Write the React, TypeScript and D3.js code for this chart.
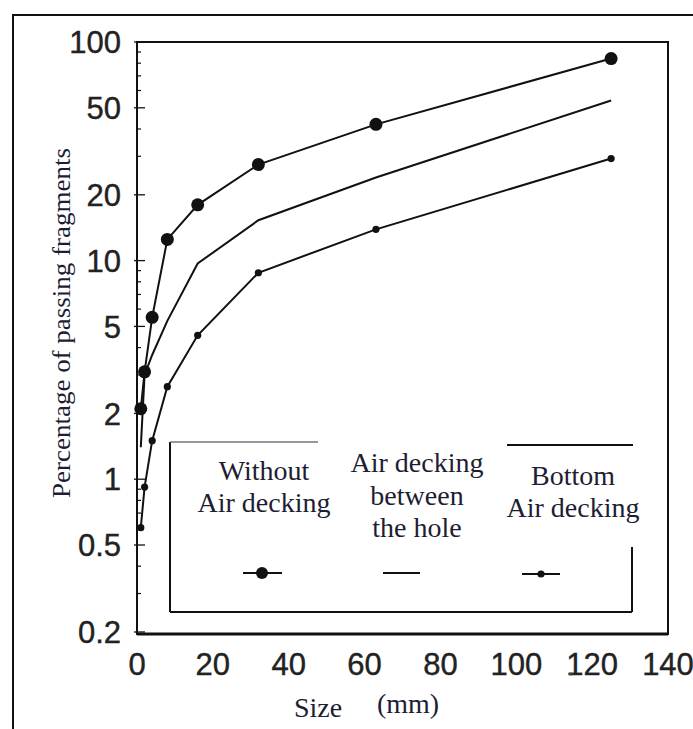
import React from "react";
import * as d3 from "d3";

const sizes = [1, 2, 4, 8, 16, 32, 63, 125];
const withoutAirDecking = [2.1, 3.1, 5.5, 12.5, 18, 27.5, 42, 84];
const airDeckingBetween = [1.4, 3.0, 3.7, 5.3, 9.7, 15.3, 24, 54];
const bottomAirDecking = [0.6, 0.92, 1.5, 2.65, 4.55, 8.8, 13.9, 29.3];

const xTicks = [0, 20, 40, 60, 80, 100, 120, 140];
const yTicks = [0.2, 0.5, 1, 2, 5, 10, 20, 50, 100];

const legendLabels = [
  ["Without", "Air decking"],
  ["Air decking", "between", "the hole"],
  ["Bottom", "Air decking"],
];

const W = 693;
const H = 729;
const L = 137, R = 668, T = 42, B = 632;

export default function App() {
  const x = d3.scaleLinear().domain([0, 140]).range([L, R]);
  const y = d3.scaleLog().domain([0.2, 100]).range([B, T]);
  const line = d3
    .line<[number, number]>()
    .x((d) => x(d[0]))
    .y((d) => y(d[1]));
  const pts = (vals: number[]) => sizes.map((s, i) => [s, vals[i]] as [number, number]);

  const minor: number[] = [];
  [0.1, 1, 10].forEach((dec) => {
    for (let k = 1; k <= 9; k++) {
      const v = dec * k;
      if (v >= 0.2 && v <= 100 && !yTicks.includes(+v.toFixed(4))) minor.push(v);
    }
  });

  const ink = "#111";
  const textNavy = "#1d1d33";
  const sans = "'Liberation Sans', Arial, sans-serif";
  const serif = "'Liberation Serif', 'Times New Roman', serif";

  const legendX = [264, 417, 573];
  const legendY = [[470, 502], [462, 495, 527], [475, 507]];

  return (
    <svg
      width={W}
      height={H}
      style={{ position: "absolute", left: 0, top: 0, display: "block", background: "#fff" }}
    >
      <rect x={0} y={0} width={W} height={H} fill="#fff" />
      {/* outer frame */}
      <rect x={13} y={15} width={720} height={800} fill="none" stroke={ink} strokeWidth={2} />

      {/* plot frame */}
      <rect x={L} y={T} width={R - L} height={B + 2 - T} fill="none" stroke={ink} strokeWidth={2} />
      <line x1={L} x2={R} y1={B + 2} y2={B + 2} stroke={ink} strokeWidth={3} />

      {/* y ticks */}
      {yTicks.map((v) => (
        <line key={"mt" + v} x1={L - 3} x2={L + 8} y1={y(v)} y2={y(v)} stroke={ink} strokeWidth={1.3} />
      ))}
      {minor.map((v, i) => (
        <line key={"mn" + i} x1={L} x2={L + 4} y1={y(v)} y2={y(v)} stroke={ink} strokeWidth={1.2} />
      ))}
      {yTicks.map((v) => (
        <text
          key={"yl" + v}
          x={121}
          y={y(v)}
          dy="0.36em"
          textAnchor="end"
          fontFamily={sans}
          fontSize={31}
          fill="#222"
          stroke="#222"
          strokeWidth={0.4}
        >
          {v}
        </text>
      ))}
      {xTicks.map((v) => (
        <text
          key={"xl" + v}
          x={x(v)}
          y={675}
          textAnchor="middle"
          fontFamily={sans}
          fontSize={31}
          fill="#222"
          stroke="#222"
          strokeWidth={0.4}
        >
          {v}
        </text>
      ))}
      <circle cx={x(120) - 21} cy={674} r={1.6} fill="#444" />

      {/* axis titles */}
      <text
        transform={`translate(70,${323}) rotate(-90)`}
        textAnchor="middle"
        fontFamily={serif}
        fontSize={25}
        fill={textNavy}
        textLength={350}
        lengthAdjust="spacingAndGlyphs"
      >
        Percentage of passing fragments
      </text>
      <text x={318} y={717} textAnchor="middle" fontFamily={serif} fontSize={28} fill={textNavy}>
        Size
      </text>
      <text x={408} y={713} textAnchor="middle" fontFamily={serif} fontSize={28} fill={textNavy}>
        (mm)
      </text>

      {/* series lines */}
      <path d={line(pts(withoutAirDecking)) || ""} fill="none" stroke={ink} strokeWidth={2} />
      <path d={line(pts(airDeckingBetween)) || ""} fill="none" stroke={ink} strokeWidth={2} />
      <path d={line(pts(bottomAirDecking)) || ""} fill="none" stroke={ink} strokeWidth={2} />
      {pts(withoutAirDecking).map((d, i) => (
        <circle key={"a" + i} cx={x(d[0])} cy={y(d[1])} r={6.5} fill={ink} />
      ))}
      {pts(bottomAirDecking).map((d, i) => (
        <circle key={"c" + i} cx={x(d[0])} cy={y(d[1])} r={3.6} fill={ink} />
      ))}

      {/* legend box */}
      <rect x={170} y={443} width={462} height={169} fill="#fff" stroke="none" />
      <line x1={170} x2={170} y1={442} y2={612} stroke={ink} strokeWidth={2} />
      <line x1={170} x2={632} y1={612} y2={612} stroke={ink} strokeWidth={2} />
      <line x1={632} x2={632} y1={547} y2={612} stroke={ink} strokeWidth={2} />
      <line x1={170} x2={318} y1={442} y2={442} stroke="#777" strokeWidth={1.5} />
      <line x1={507} x2={633} y1={445} y2={445} stroke={ink} strokeWidth={2} />

      {legendLabels.map((lines, i) =>
        lines.map((t, j) => (
          <text
            key={"lg" + i + j}
            x={legendX[i]}
            y={legendY[i][j]}
            dy="0.35em"
            textAnchor="middle"
            fontFamily={serif}
            fontSize={28}
            fill={textNavy}
          >
            {t}
          </text>
        ))
      )}
      <line x1={243} x2={282} y1={573} y2={573} stroke={ink} strokeWidth={2} />
      <circle cx={262} cy={573} r={6} fill={ink} />
      <line x1={383} x2={420} y1={573} y2={573} stroke={ink} strokeWidth={2} />
      <line x1={522} x2={560} y1={574} y2={574} stroke={ink} strokeWidth={2} />
      <circle cx={541} cy={574} r={3.6} fill={ink} />
    </svg>
  );
}
